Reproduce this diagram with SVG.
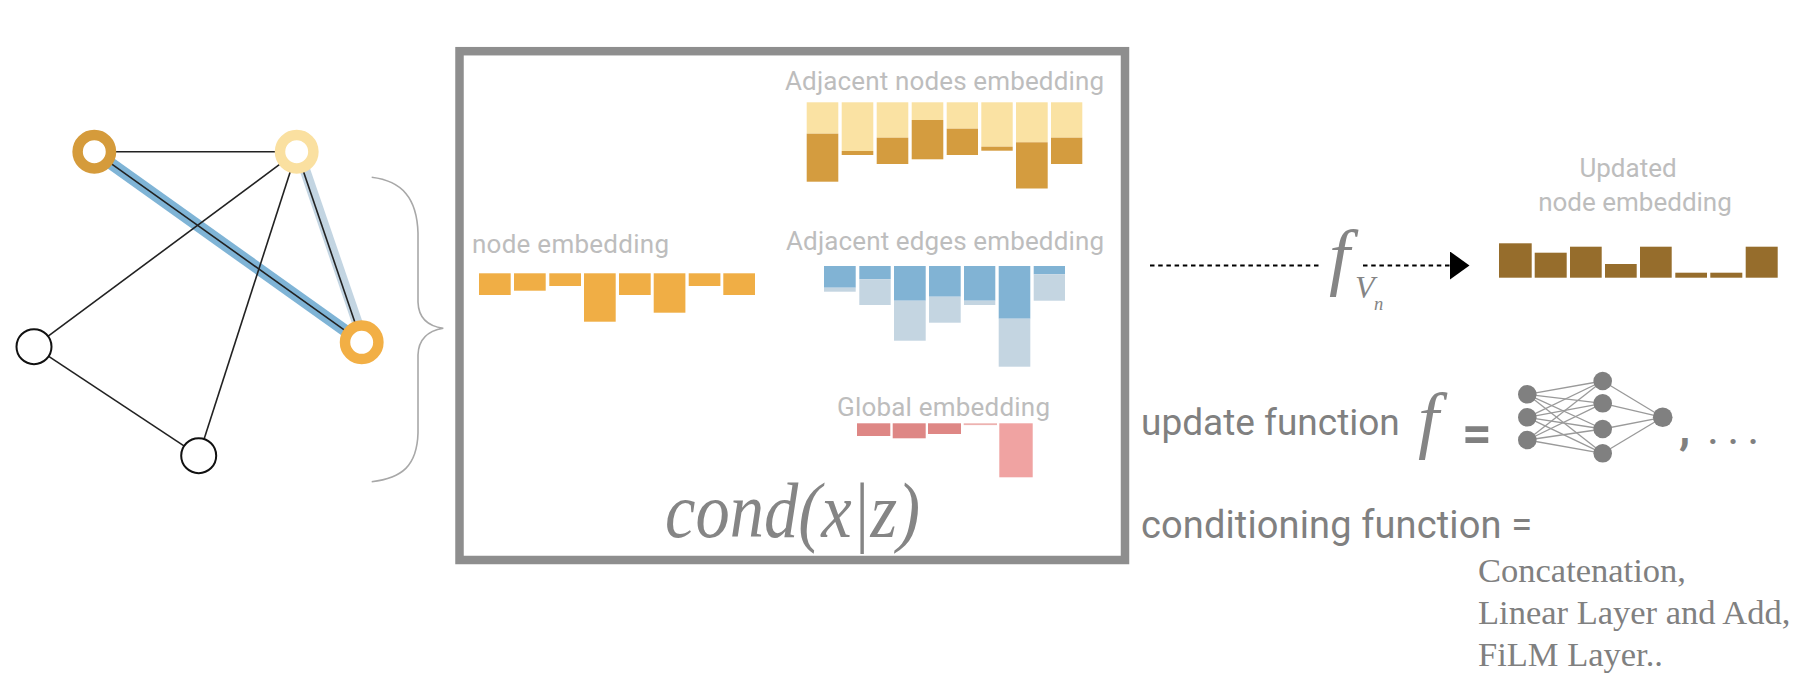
<svg xmlns="http://www.w3.org/2000/svg" width="1810" height="696" viewBox="0 0 1810 696">
<defs>
<style>
.lbl{font-family:Roboto,"Liberation Sans",sans-serif;font-size:26px;fill:#BDBDBD}
.txt{font-family:Roboto,"Liberation Sans",sans-serif;fill:#808080}
.math{font-family:"Liberation Serif","DejaVu Serif",serif;font-style:italic;fill:#858585}
.serif{font-family:"Liberation Serif","DejaVu Serif",serif;font-size:34.5px;fill:#808080}
.edge{stroke:#222;stroke-width:1.6;fill:none}
.ring{fill:#fff;stroke-width:10.5}
.plain{fill:#fff;stroke:#111;stroke-width:2}
.nn{stroke:#9A9A9A;stroke-width:1.3}
.nnd{fill:#808080}
.o{fill:#F0AE45}
.yl{fill:#FAE2A3}
.yd{fill:#D49C3F}
.bd{fill:#81B3D4}
.bl{fill:#C4D5E1}
.rd{fill:#DE8785}
.rl{fill:#F0A3A2}
.br{fill:#966D2C}
</style>
<marker id="arrow" viewBox="0 0 20 28" refX="0" refY="14" markerWidth="20" markerHeight="28" markerUnits="userSpaceOnUse" orient="auto">
<polygon points="0,0 19.5,14 0,28" fill="#000"/>
</marker>
</defs>
<rect width="1810" height="696" fill="#fff"/>

<g id="connectors">
<line x1="94.3" y1="151.7" x2="361.7" y2="342.3" stroke="#7FB4D6" stroke-width="12"/>
<line x1="298.7" y1="151.7" x2="364" y2="342.3" stroke="#C3D5E2" stroke-width="10.5"/>
<line class="edge" x1="94.3" y1="151.7" x2="296.7" y2="151.7"/>
<line class="edge" x1="94.3" y1="151.7" x2="361.7" y2="342.3"/>
<line class="edge" x1="296.7" y1="151.7" x2="361.7" y2="342.3"/>
<line class="edge" x1="296.7" y1="151.7" x2="34" y2="346.7"/>
<line class="edge" x1="296.7" y1="151.7" x2="198.7" y2="455.7"/>
<line class="edge" x1="34" y1="346.7" x2="198.7" y2="455.7"/>
<line x1="1150" y1="265.5" x2="1322" y2="265.5" stroke="#000" stroke-width="2.2" stroke-dasharray="4.5 3.7"/>
<line x1="1363" y1="265.5" x2="1450" y2="265.5" stroke="#000" stroke-width="2.2" stroke-dasharray="4.5 3.7" marker-end="url(#arrow)"/>
</g>

<g id="node-tl"><circle class="ring" cx="94.3" cy="151.7" r="16.7" stroke="#D59B3B"/></g>
<g id="node-tr"><circle class="ring" cx="296.7" cy="151.7" r="16.7" stroke="#FAE0A0"/></g>
<g id="node-r"><circle class="ring" cx="361.7" cy="342.3" r="16.7" stroke="#F2AF45"/></g>
<g id="node-bl"><circle class="plain" cx="34" cy="346.7" r="17.5"/></g>
<g id="node-b"><circle class="plain" cx="198.7" cy="455.7" r="17.5"/></g>

<g id="brace">
<path d="M371.7 177.3 C402 181 417 198 418 233 L418 302 C418.5 318 427 326 443.3 328.3 C427 331 418.5 339 418 355 L418 433 C417 466 402 478 371.7 481.7" fill="none" stroke="#A8A8A8" stroke-width="1.6"/>
</g>

<g id="cond-box">
<rect x="459.5" y="51.2" width="665.5" height="508.8" fill="none" stroke="#8E8E8E" stroke-width="8.5"/>
<text class="math" x="665" y="536.7" font-size="78" textLength="255" lengthAdjust="spacingAndGlyphs">cond(x|z)</text>
</g>

<g id="adjacent-nodes">
<text class="lbl" x="785" y="89.5" textLength="319">Adjacent nodes embedding</text>
<rect class="yl" x="806.7" y="102.3" width="31.6" height="31.4"/><rect class="yd" x="806.7" y="133.7" width="31.6" height="48"/>
<rect class="yl" x="841.7" y="102.3" width="31.6" height="48.7"/><rect class="yd" x="841.7" y="151" width="31.6" height="4"/>
<rect class="yl" x="876.7" y="102.3" width="31.6" height="35.4"/><rect class="yd" x="876.7" y="137.7" width="31.6" height="26.3"/>
<rect class="yl" x="911.7" y="102.3" width="31.6" height="17.7"/><rect class="yd" x="911.7" y="120" width="31.6" height="39.3"/>
<rect class="yl" x="946.7" y="102.3" width="31.3" height="26.4"/><rect class="yd" x="946.7" y="128.7" width="31.3" height="26.3"/>
<rect class="yl" x="981.3" y="102.3" width="31.4" height="44.4"/><rect class="yd" x="981.3" y="146.7" width="31.4" height="4"/>
<rect class="yl" x="1016" y="102.3" width="31.7" height="40"/><rect class="yd" x="1016" y="142.3" width="31.7" height="46.2"/>
<rect class="yl" x="1051" y="102.3" width="31.3" height="35.4"/><rect class="yd" x="1051" y="137.7" width="31.3" height="26.3"/>
</g>

<g id="node-embedding">
<text class="lbl" x="472" y="252.7" textLength="197">node embedding</text>
<rect class="o" x="479" y="273.3" width="31.7" height="21.7"/>
<rect class="o" x="514" y="273.3" width="31.7" height="17.4"/>
<rect class="o" x="549.3" y="273.3" width="31.7" height="12.7"/>
<rect class="o" x="584" y="273.3" width="31.7" height="48.4"/>
<rect class="o" x="619" y="273.3" width="31.7" height="21.7"/>
<rect class="o" x="653.7" y="273.3" width="31.7" height="39.4"/>
<rect class="o" x="688.7" y="273.3" width="31.7" height="12.7"/>
<rect class="o" x="723.3" y="273.3" width="31.7" height="21.7"/>
</g>

<g id="adjacent-edges">
<text class="lbl" x="786" y="250" textLength="318">Adjacent edges embedding</text>
<rect class="bd" x="824" y="266" width="31.7" height="21.7"/><rect class="bl" x="824" y="287.7" width="31.7" height="4"/>
<rect class="bd" x="859.3" y="266" width="31.4" height="13.3"/><rect class="bl" x="859.3" y="279.3" width="31.4" height="25.7"/>
<rect class="bd" x="894" y="266" width="31.7" height="34.7"/><rect class="bl" x="894" y="300.7" width="31.7" height="40"/>
<rect class="bd" x="929" y="266" width="31.7" height="30.7"/><rect class="bl" x="929" y="296.7" width="31.7" height="26"/>
<rect class="bd" x="964" y="266" width="31.3" height="34.7"/><rect class="bl" x="964" y="300.7" width="31.3" height="4.3"/>
<rect class="bd" x="998.7" y="266" width="31.6" height="52.7"/><rect class="bl" x="998.7" y="318.7" width="31.6" height="48"/>
<rect class="bd" x="1033.7" y="266" width="31.3" height="8.3"/><rect class="bl" x="1033.7" y="274.3" width="31.3" height="26.4"/>
</g>

<g id="global-embedding">
<text class="lbl" x="837" y="416" textLength="213">Global embedding</text>
<rect class="rd" x="857" y="423.3" width="33.3" height="12.7"/>
<rect class="rd" x="892.7" y="423.3" width="33" height="15"/>
<rect class="rd" x="928" y="423.3" width="33" height="10.7"/>
<rect x="963.7" y="423.3" width="33.3" height="1.8" fill="#EDB2B0"/>
<rect class="rl" x="999.3" y="423.3" width="33.4" height="54"/>
</g>

<g id="f-vn">
<text class="math" x="1329" y="281" font-size="75">f</text>
<text class="math" x="1355" y="298.3" font-size="32">V</text>
<text class="math" x="1374" y="310" font-size="18.5">n</text>
</g>

<g id="updated-embedding">
<text class="lbl" x="1628" y="177.3" text-anchor="middle">Updated</text>
<text class="lbl" x="1635" y="210.5" text-anchor="middle">node embedding</text>
<rect class="br" x="1499" y="243.3" width="32.7" height="34.4"/>
<rect class="br" x="1534.7" y="252.7" width="32" height="25"/>
<rect class="br" x="1570" y="246.7" width="31.7" height="31"/>
<rect class="br" x="1605" y="264" width="31.7" height="13.7"/>
<rect class="br" x="1640" y="246.7" width="31.7" height="31"/>
<rect class="br" x="1675.3" y="272.7" width="31.7" height="5"/>
<rect class="br" x="1710.3" y="272.7" width="32" height="5"/>
<rect class="br" x="1745.7" y="246.7" width="32" height="31"/>
</g>

<g id="update-function">
<text class="txt" x="1141" y="435" font-size="37">update function</text>
<text class="math" x="1418" y="444" font-size="75">f</text>
<text class="txt" x="1462" y="451" font-size="52" font-weight="700">=</text>
<g id="mlp">
<g class="nn">
<line x1="1527.3" y1="394.3" x2="1602.7" y2="381"/><line x1="1527.3" y1="394.3" x2="1602.7" y2="403.3"/><line x1="1527.3" y1="394.3" x2="1602.7" y2="429"/><line x1="1527.3" y1="394.3" x2="1602.7" y2="453.3"/>
<line x1="1527.3" y1="417.3" x2="1602.7" y2="381"/><line x1="1527.3" y1="417.3" x2="1602.7" y2="403.3"/><line x1="1527.3" y1="417.3" x2="1602.7" y2="429"/><line x1="1527.3" y1="417.3" x2="1602.7" y2="453.3"/>
<line x1="1527.3" y1="440" x2="1602.7" y2="381"/><line x1="1527.3" y1="440" x2="1602.7" y2="403.3"/><line x1="1527.3" y1="440" x2="1602.7" y2="429"/><line x1="1527.3" y1="440" x2="1602.7" y2="453.3"/>
<line x1="1602.7" y1="381" x2="1662.7" y2="417.3"/><line x1="1602.7" y1="403.3" x2="1662.7" y2="417.3"/><line x1="1602.7" y1="429" x2="1662.7" y2="417.3"/><line x1="1602.7" y1="453.3" x2="1662.7" y2="417.3"/>
</g>
<circle class="nnd" cx="1527.3" cy="394.3" r="9.3"/><circle class="nnd" cx="1527.3" cy="417.3" r="9.3"/><circle class="nnd" cx="1527.3" cy="440" r="9.3"/>
<circle class="nnd" cx="1602.7" cy="381" r="9.3"/><circle class="nnd" cx="1602.7" cy="403.3" r="9.3"/><circle class="nnd" cx="1602.7" cy="429" r="9.3"/><circle class="nnd" cx="1602.7" cy="453.3" r="9.3"/>
<circle class="nnd" cx="1662.7" cy="417.3" r="9.8"/>
</g>
<text class="txt" y="444" font-size="46" font-weight="700"><tspan x="1679">,</tspan><tspan x="1707" font-weight="400" letter-spacing="8">...</tspan></text>
</g>

<g id="conditioning-function">
<text class="txt" x="1141" y="538" font-size="38" textLength="391">conditioning function =</text>
<text class="serif" x="1478" y="582">Concatenation,</text>
<text class="serif" x="1478" y="624">Linear Layer and Add,</text>
<text class="serif" x="1478" y="666">FiLM Layer..</text>
</g>
</svg>
